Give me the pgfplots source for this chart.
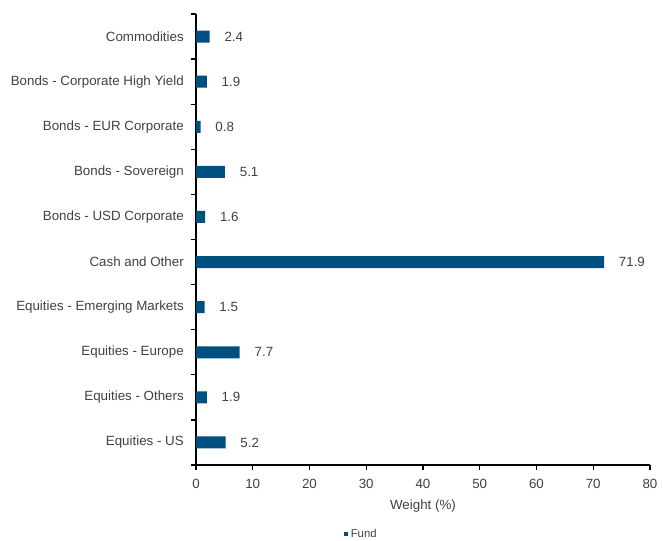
\documentclass[border=0pt]{standalone}
\usepackage{pgfplots}
\pgfplotsset{compat=1.18}
\usepackage{fontspec}
\setmainfont{Liberation Sans}
\definecolor{fundblue}{HTML}{00507F}
\definecolor{txtgray}{HTML}{404040}
\begin{document}
\begin{tikzpicture}
\path[use as bounding box] (0,0) rectangle (497.25pt,405pt);
\begin{axis}[
  at={(147pt,56.25pt)}, anchor=south west,
  scale only axis, width=340.5pt, height=338.25pt,
  xbar, bar width=9pt,
  xmin=0, xmax=80, ymin=-0.5, ymax=9.5,
  xtick={0,10,...,80},
  ytick={-0.5,0.5,...,9.5},
  yticklabels={Equities - US,Equities - Others,Equities - Europe,Equities - Emerging Markets,Cash and Other,Bonds - USD Corporate,Bonds - Sovereign,Bonds - EUR Corporate,Bonds - Corporate High Yield,Commodities,{}},
  axis x line*=bottom, axis y line*=left,
  axis line style={black, line width=0.9pt, -},
  major tick length=4pt,
  every tick/.style={black, line width=1pt},
  tick align=outside,
  yticklabel style={font=\fontsize{10}{11}\selectfont, text=txtgray, inner sep=0pt, xshift=-5pt, yshift=16.91pt},
  xticklabel style={font=\fontsize{10}{11}\selectfont, text=txtgray, yshift=-3pt},
  /pgf/number format/assume math mode=true,
  xlabel={Weight (\%)},
  xlabel style={font=\fontsize{10}{11}\selectfont, text=txtgray, yshift=-2pt},
  nodes near coords={\pgfmathprintnumber[fixed,fixed zerofill,precision=1]{\pgfplotspointmeta}},
  nodes near coords style={font=\fontsize{10}{11}\selectfont, text=txtgray, anchor=west, inner sep=0pt, xshift=11pt},
  legend style={at={(0.365,-0.153)}, anchor=center, draw=none, font=\fontsize{8.5}{9}\selectfont, text=txtgray, inner sep=0pt},
  legend image code/.code={\fill[fundblue] (0pt,-1.5pt) rectangle (3pt,1.5pt);},
  clip=false,
]
\addplot[fill=fundblue, draw=none] coordinates {
(5.2,0) (1.9,1) (7.7,2) (1.5,3) (71.9,4) (1.6,5) (5.1,6) (0.8,7) (1.9,8) (2.4,9)
};
\addlegendentry{Fund}
\pgfplotsinvokeforeach{0.5,1.5,...,9.5}{
  \draw[black, line width=1pt] (axis cs:0,#1) -- ++(-4pt,0pt);
}
\end{axis}
\end{tikzpicture}
\end{document}
